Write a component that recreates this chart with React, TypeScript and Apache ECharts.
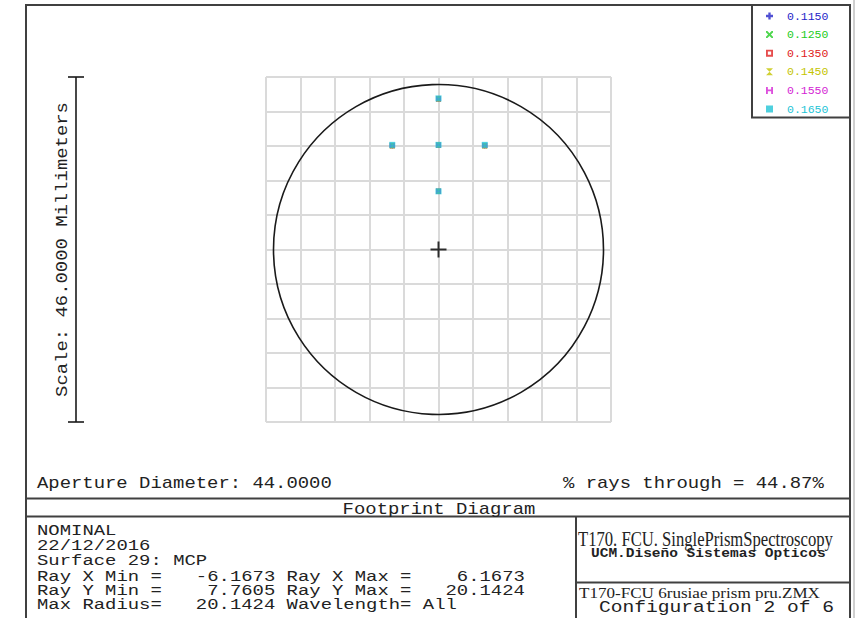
import React, { useEffect, useRef } from "react";
import * as echarts from "echarts";

// Footprint of the ray bundle on surface 29 (MCP), one series per wavelength (µm)
const WAVELENGTHS = ["0.1150", "0.1250", "0.1350", "0.1450", "0.1550", "0.1650"];
const RAY_X = [0, -6.1673, 0, 6.1673, 0];
const RAY_Y_0115 = [20.06, 13.8, 13.9, 13.8, 7.7605];
const RAY_Y_0125 = [20.06, 13.8, 13.9, 13.8, 7.7605];
const RAY_Y_0135 = [20.07, 13.82, 13.91, 13.82, 7.7605];
const RAY_Y_0145 = [20.08, 13.84, 13.92, 13.84, 7.7605];
const RAY_Y_0155 = [20.1, 13.86, 13.93, 13.86, 7.7605];
const RAY_Y_0165 = [20.1424, 13.95, 13.95, 13.95, 7.7605];
const RAY_Y = [RAY_Y_0115, RAY_Y_0125, RAY_Y_0135, RAY_Y_0145, RAY_Y_0155, RAY_Y_0165];

const APERTURE_DIAMETER = 44.0;
const SCALE_MM = 46.0;
const GRID_DIVISIONS = 10;
const RAYS_THROUGH = 44.87;

const INFO_LINES = [
  "NOMINAL",
  "22/12/2016",
  "Surface 29: MCP",
  "Ray X Min =   -6.1673 Ray X Max =    6.1673",
  "Ray Y Min =    7.7605 Ray Y Max =   20.1424",
  "Max Radius=   20.1424 Wavelength= All",
];
const TITLE = "Footprint Diagram";
const LENS_TITLE = "T170. FCU. SinglePrismSpectroscopy";
const LENS_AUTHOR = "UCM.Diseño Sistemas Opticos";
const LENS_FILE = "T170-FCU 6rusiae prism pru.ZMX";
const CONFIG_TEXT = "Configuration 2 of 6";

// ---- styling ----
const WAVE_COLORS = ["#2424c8", "#22cc22", "#e02020", "#c4c400", "#d424d4", "#22c4d6"];
const WAVE_SYMBOLS = [
  "path://M2,0H4V2H6V4H4V6H2V4H0V2H2Z",
  "path://M0,0H1.2L3,1.8L4.8,0H6V1.2L4.2,3L6,4.8V6H4.8L3,4.2L1.2,6H0V4.8L1.8,3L0,1.2Z",
  "path://M0,0H6V6H0ZM1.6,1.6V4.4H4.4V1.6Z",
  "path://M0,0H6L3,3L6,6H0L3,3Z",
  "path://M0,0H1.6V2.2H4.4V0H6V6H4.4V3.8H1.6V6H0Z",
  "path://M0,0H6V6H0Z",
];
const MONO = '"Liberation Mono", "DejaVu Sans Mono", monospace';
const SERIF = '"Liberation Serif", "DejaVu Serif", serif';
const INK = "#222222";
const FRAME = "#404040";
const CHAR_W = 11.35; // advance of the caption font, px

function measure(text: string, size: number, family: string, weight = "normal"): number {
  const ctx = document.createElement("canvas").getContext("2d");
  if (!ctx) return text.length * size * 0.6;
  ctx.font = `${weight} ${size}px ${family}`;
  return ctx.measureText(text).width;
}

// left-aligned text stretched horizontally to a given width
function fittedText(text: string, x: number, cy: number, width: number, size: number, family: string, weight = "normal") {
  const k = width / measure(text, size, family, weight);
  return {
    type: "text",
    x,
    y: cy,
    scaleX: k,
    silent: true,
    style: {
      text,
      x: 0,
      y: 0,
      fill: INK,
      fontSize: size,
      fontFamily: family,
      fontWeight: weight,
      textAlign: "left",
      align: "left",
      textVerticalAlign: "middle",
      verticalAlign: "middle",
    },
  };
}

// monospaced caption with a fixed character advance
function monoText(text: string, x: number, cy: number, size = 16, align = "left", charW = CHAR_W, extra: any = {}) {
  return {
    type: "text",
    x,
    y: cy,
    scaleX: charW / (0.6 * size),
    silent: true,
    ...extra,
    style: {
      text,
      x: 0,
      y: 0,
      fill: INK,
      fontSize: size,
      fontFamily: MONO,
      textAlign: align,
      align,
      textVerticalAlign: "middle",
      verticalAlign: "middle",
    },
  };
}

function hline(x1: number, x2: number, y: number, color = FRAME, w = 2) {
  return { type: "line", silent: true, shape: { x1, y1: y, x2, y2: y }, style: { stroke: color, lineWidth: w } };
}
function vline(x: number, y1: number, y2: number, color = FRAME, w = 2) {
  return { type: "line", silent: true, shape: { x1: x, y1, x2: x, y2 }, style: { stroke: color, lineWidth: w } };
}

export default function App() {
  const ref = useRef<HTMLDivElement>(null);

  useEffect(() => {
    if (!ref.current) return;
    const chart = echarts.init(ref.current, undefined, { renderer: "svg" });
    const half = SCALE_MM / 2;
    const step = SCALE_MM / GRID_DIVISIONS;

    const axisCommon = {
      type: "value" as const,
      min: -half,
      max: half,
      interval: step,
      axisLine: { show: false },
      axisTick: { show: false },
      axisLabel: { show: false },
      splitLine: { show: true, lineStyle: { color: "#dadada", width: 2 } },
    };

    const waveSeries = WAVELENGTHS.map((w, i) => ({
      name: w,
      type: "scatter",
      symbol: WAVE_SYMBOLS[i],
      symbolSize: i === WAVELENGTHS.length - 1 ? 6 : 5,
      itemStyle: { color: WAVE_COLORS[i] },
      data: RAY_X.map((x, j) => [x, RAY_Y[i][j]]),
      z: 3 + i,
      silent: true,
    }));

    chart.setOption({
      animation: false,
      backgroundColor: "#ffffff",
      grid: { left: 266, top: 77, width: 345, height: 345 },
      xAxis: axisCommon,
      yAxis: axisCommon,
      legend: {
        orient: "vertical",
        left: 766,
        top: 9,
        itemWidth: 7,
        itemHeight: 7,
        itemGap: 4.6,
        padding: 0,
        selectedMode: false,
        textStyle: { fontFamily: MONO, fontSize: 11.5, lineHeight: 14, padding: [0, 0, 0, 9] },
        data: WAVELENGTHS.map((w, i) => ({
          name: w,
          icon: WAVE_SYMBOLS[i],
          textStyle: { color: WAVE_COLORS[i] },
        })),
      },
      series: [
        ...waveSeries,
        {
          name: "chief",
          type: "scatter",
          symbol: "path://M0,8H16M8,0V16",
          symbolSize: 16,
          itemStyle: { color: "rgba(0,0,0,0)", borderColor: "#000", borderWidth: 2 },
          data: [[0, 0]],
          z: 10,
          silent: true,
        },
      ],
    });

    // aperture circle and scale bar placed through the axis scales
    const c = chart.convertToPixel({ gridIndex: 0 }, [0, 0]) as number[];
    const e = chart.convertToPixel({ gridIndex: 0 }, [APERTURE_DIAMETER / 2, 0]) as number[];
    const top = chart.convertToPixel({ gridIndex: 0 }, [0, half]) as number[];
    const bot = chart.convertToPixel({ gridIndex: 0 }, [0, -half]) as number[];
    const r = e[0] - c[0];
    const barX = 76;

    const graphic: any[] = [
      {
        type: "circle",
        silent: true,
        z: 2,
        shape: { cx: c[0], cy: c[1], r },
        style: { fill: "none", stroke: "#1a1a1a", lineWidth: 1.6 },
      },
      // scale bar
      vline(barX, top[1], bot[1], "#1a1a1a", 1.6),
      hline(barX - 8, barX + 8, top[1], "#1a1a1a", 1.6),
      hline(barX - 8, barX + 8, bot[1], "#1a1a1a", 1.6),
      monoText(`Scale: ${SCALE_MM.toFixed(4)} Millimeters`, 62, (top[1] + bot[1]) / 2, 16, "center", CHAR_W, {
        rotation: Math.PI / 2,
      }),
      // frame
      vline(26, 4, 618),
      hline(25, 851, 5),
      vline(850, 4, 618),
      vline(854, 0, 618, "#a0a0a0", 1),
      hline(25, 851, 498.5),
      hline(25, 851, 516.5),
      vline(576, 516, 618),
      hline(575, 851, 582.5),
      // legend box
      vline(752, 4, 118),
      hline(751, 851, 117.5),
      // captions
      monoText(`Aperture Diameter: ${APERTURE_DIAMETER.toFixed(4)}`, 37, 483),
      monoText(`% rays through = ${RAYS_THROUGH.toFixed(2)}%`, 563, 483),
      monoText(TITLE, 439, 509, 16, "center"),
      ...INFO_LINES.map((t, i) => monoText(t, 37, [531, 546, 561, 577, 591, 605][i], 14.5)),
      fittedText(LENS_TITLE, 578, 539, 255, 20, SERIF),
      fittedText(LENS_AUTHOR, 591, 554, 235, 12.5, MONO, "bold"),
      fittedText(LENS_FILE, 579, 593, 241, 14, SERIF),
      monoText(CONFIG_TEXT, 599, 608, 17, "left", 11.75),
    ];

    chart.setOption({ graphic });

    return () => chart.dispose();
  }, []);

  return (
    <div
      ref={ref}
      style={{ position: "fixed", left: 0, top: 0, width: 859, height: 618, background: "#fff" }}
    />
  );
}
